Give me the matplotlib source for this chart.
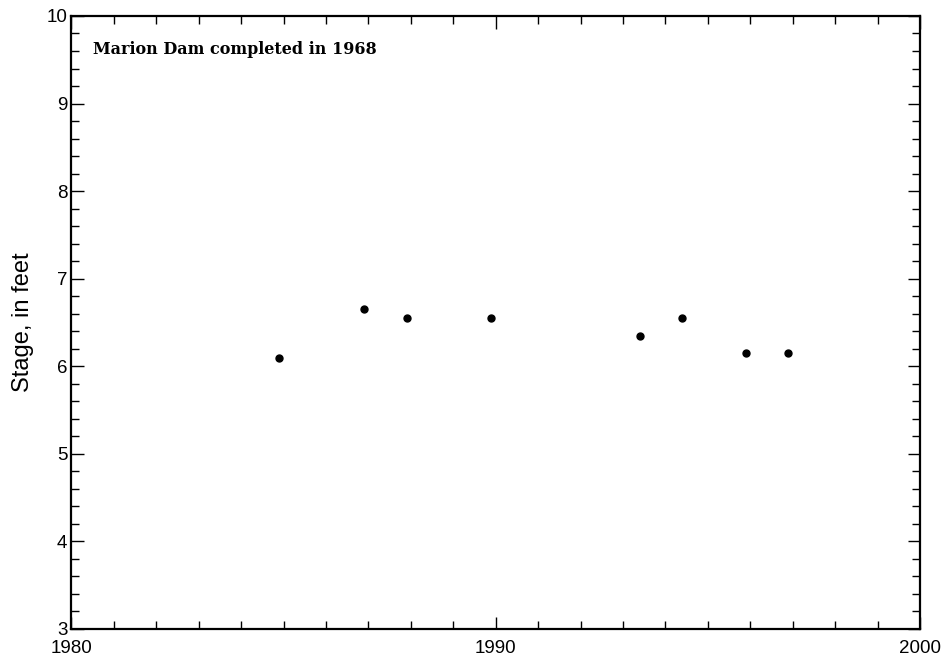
import matplotlib
matplotlib.use("Agg")
import matplotlib.pyplot as plt
from matplotlib.ticker import MultipleLocator

years = [1984.9, 1986.9, 1987.9, 1989.9, 1993.4, 1994.4, 1995.9, 1996.9]
stage = [6.10, 6.65, 6.55, 6.55, 6.35, 6.55, 6.15, 6.15]
xticks = [1980, 1990, 2000]
yticks = [3, 4, 5, 6, 7, 8, 9, 10]
note = "Marion Dam completed in 1968"

plt.rcParams['font.family'] = ['Liberation Sans', 'DejaVu Sans']

fig = plt.figure(figsize=(9.43, 6.6), dpi=100)
ax = fig.add_axes([0.0758, 0.047, 0.9756 - 0.0758, 0.9758 - 0.047])
ax.plot(years, stage, "o", color="black", markersize=5)
ax.set_xlim(1980, 2000)
ax.set_ylim(3, 10)
ax.set_xticks(xticks)
ax.set_yticks(yticks)
ax.xaxis.set_minor_locator(MultipleLocator(1))
ax.yaxis.set_minor_locator(MultipleLocator(0.2))
ax.tick_params(which="both", direction="in", top=True, right=True, width=1, colors="black")
ax.tick_params(which="major", length=9, labelsize=13.5)
ax.tick_params(axis="y", which="major", pad=3)
ax.tick_params(axis="x", which="major", pad=8)
ax.tick_params(which="minor", length=6)
for s in ax.spines.values():
    s.set_linewidth(1.6)
ax.set_ylabel("Stage, in feet", fontsize=17, labelpad=9)
ax.text(0.025, 0.945, note, transform=ax.transAxes, fontsize=11.5,
        fontweight="bold", family="DejaVu Serif", va="center", ha="left")
fig.savefig("out.png", dpi=100)
